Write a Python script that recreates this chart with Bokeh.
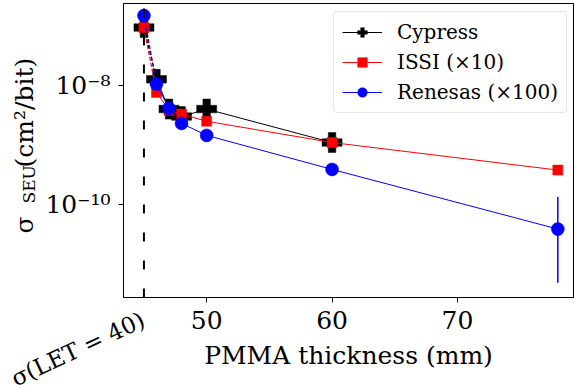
import math
from bokeh.plotting import figure
from bokeh.layouts import column
from bokeh.models import Range1d, FixedTicker, Label, Legend, LegendItem
from bokeh.embed import file_html
from bokeh.resources import INLINE

# ---- data ----
thick_cypress = [45, 46, 47, 48, 50, 60]
sigma_cypress = [9.3e-8, 1.26e-8, 4.0e-9, 3.0e-9, 4.0e-9, 1.1e-9]

thick_issi = [45, 46, 47, 48, 50, 60, 78]
sigma_issi = [9.3e-8, 7.6e-9, 3.8e-9, 3.3e-9, 2.5e-9, 1.1e-9, 3.8e-10]

thick_renesas = [45, 46, 47, 48, 50, 60, 78]
sigma_renesas = [1.48e-7, 1.05e-8, 4.1e-9, 2.3e-9, 1.45e-9, 3.9e-10, 3.9e-11]

err_x_renesas = [78]
err_lo_renesas = [4.9e-12]
err_hi_renesas = [1.34e-10]

let40_thickness = 45
let40_label = "σ(LET = 40)"

x_ticks = [50, 60, 70]
y_ticks = [1e-8, 1e-10]
y_tick_labels = ["10⁻⁸", "10⁻¹⁰"]

labels = ["Cypress", "ISSI (×10)", "Renesas (×100)"]
x_label = "PMMA thickness (mm)"
y_label_parts = ["σ", "SEU", "(cm²/bit)"]

FONT = "DejaVu Serif"
W, H = 574, 389
Y0, Y1 = 10 ** -11.556, 10 ** -6.628

p = figure(width=W, height=H,
           x_range=Range1d(43.37, 79.25), y_range=Range1d(Y0, Y1),
           y_axis_type="log", output_backend="svg", toolbar_location=None,
           min_border_left=123, min_border_right=1, min_border_top=3,
           min_border_bottom=92)

p.background_fill_color = "white"
p.border_fill_color = "white"
p.outline_line_color = "black"
p.outline_line_width = 1
p.grid.visible = False

p.xaxis.ticker = FixedTicker(ticks=x_ticks, minor_ticks=[])
p.yaxis.ticker = FixedTicker(ticks=y_ticks, minor_ticks=[])
p.yaxis.major_label_overrides = dict(zip(y_ticks, y_tick_labels))
for ax in (p.xaxis, p.yaxis):
    ax.axis_line_color = "black"
    ax.major_tick_line_color = "black"
    ax.major_tick_out = 5
    ax.major_tick_in = 0
    ax.minor_tick_out = 0
    ax.minor_tick_in = 0
    ax.major_label_text_font = FONT
    ax.major_label_text_font_size = "25px"
    ax.major_label_text_color = "black"
p.xaxis.major_label_standoff = 8
p.yaxis.major_label_standoff = 8
p.xaxis.axis_label = x_label
p.xaxis.axis_label_text_font = FONT
p.xaxis.axis_label_text_font_size = "25px"
p.xaxis.axis_label_text_font_style = "normal"
p.xaxis.axis_label_text_color = "black"
p.xaxis.axis_label_standoff = 9

series = [
    (thick_cypress, sigma_cypress, "black", "plus", 20),
    (thick_issi, sigma_issi, "red", "square", 10),
    (thick_renesas, sigma_renesas, "blue", "circle", 13),
]

items = []
for i, (xs, ys, col, mk, sz) in enumerate(series):
    p.line(xs[:2], ys[:2], line_color=col, line_width=1.2, line_dash="4 2")
    lr = p.line(xs[1:], ys[1:], line_color=col, line_width=1)
    if col == "blue":
        p.segment(x0=err_x_renesas, y0=err_lo_renesas, x1=err_x_renesas,
                  y1=err_hi_renesas, line_color="blue", line_width=1.5)
    sr = p.scatter(xs, ys, marker=mk, size=sz, fill_color=col,
                   line_color=col, line_width=0.5)
    items.append(LegendItem(label=labels[i], renderers=[lr, sr]))

p.segment(x0=[let40_thickness], y0=[Y0], x1=[let40_thickness], y1=[Y1],
          line_color="black", line_width=2, line_dash="9 19")

legend = Legend(items=items, location=(210, 184))
legend.label_text_font = FONT
legend.label_text_font_size = "20px"
legend.label_text_color = "black"
legend.border_line_color = "#cccccc"
legend.border_line_width = 1
legend.background_fill_alpha = 0.8
legend.padding = 8
legend.spacing = 6
legend.label_height = 24
legend.glyph_height = 24
legend.glyph_width = 40
legend.label_standoff = 15
legend.margin = 0
try:
    legend.border_radius = 4
except Exception:
    pass
p.add_layout(legend)

# ---- transparent text layer on top (texts outside the plot frame) ----
q = figure(width=W, height=H, x_range=Range1d(0, W), y_range=Range1d(0, H),
           output_backend="svg", toolbar_location=None,
           x_axis_location=None, y_axis_location=None,
           min_border_left=0, min_border_right=0, min_border_top=0,
           min_border_bottom=0)
q.grid.visible = False
q.outline_line_color = None
q.background_fill_alpha = 0
q.border_fill_alpha = 0
q.styles = {"position": "absolute", "left": "0px", "top": "0px",
            "pointer-events": "none"}
for fig in (p, q):
    try:
        fig.frame_align = False
    except Exception:
        pass

q.add_layout(Label(x=12, y=H - 379, x_units="screen", y_units="screen",
                   text=let40_label, angle=math.radians(25),
                   text_align="left", text_baseline="alphabetic",
                   text_font=FONT, text_font_size="23px", text_color="black"))
q.add_layout(Label(x=24, y=H - 233, x_units="screen", y_units="screen",
                   text=y_label_parts[0], angle=math.pi / 2, text_align="left",
                   text_baseline="middle", text_font=FONT,
                   text_font_size="25px", text_color="black"))
q.add_layout(Label(x=28, y=H - 203, x_units="screen", y_units="screen",
                   text=y_label_parts[1], angle=math.pi / 2, text_align="left",
                   text_baseline="middle", text_font=FONT,
                   text_font_size="17px", text_color="black"))
q.add_layout(Label(x=24, y=H - 167, x_units="screen", y_units="screen",
                   text=y_label_parts[2], angle=math.pi / 2, text_align="left",
                   text_baseline="middle", text_font=FONT,
                   text_font_size="25px", text_color="black"))

page = column(p, q)
page.styles = {"position": "relative"}
open("out.html", "w").write(file_html(page, INLINE))
